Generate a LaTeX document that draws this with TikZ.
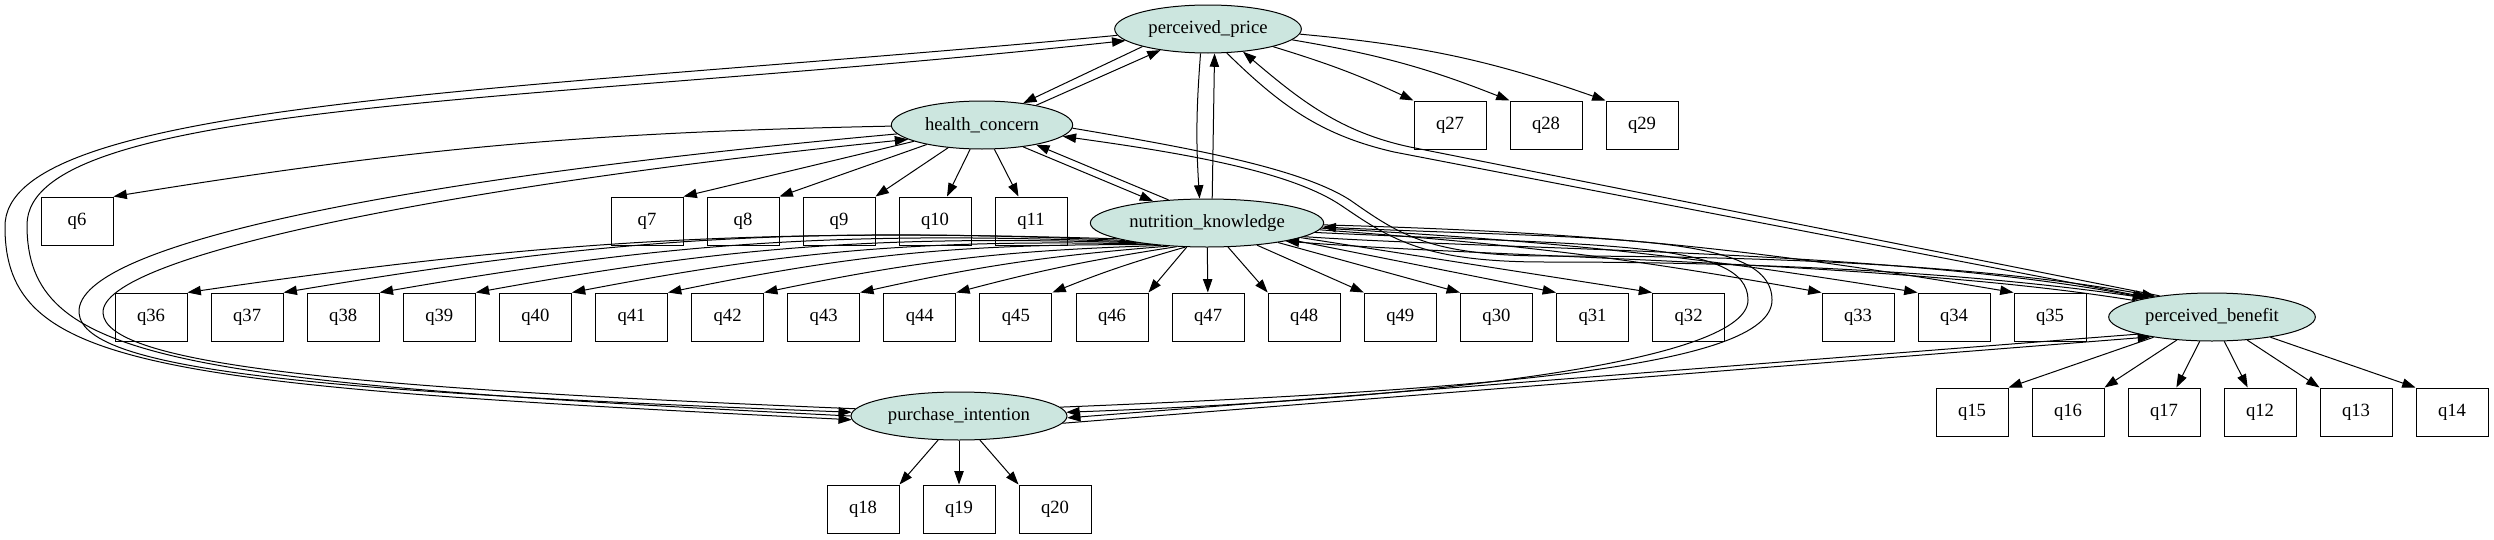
\documentclass[tikz,border=0pt]{standalone}
\usepackage{fontspec}
\setmainfont{Liberation Serif}
\usepackage{tikz}
\usetikzlibrary{positioning}
\usetikzlibrary{shapes.geometric,arrows.meta}
\definecolor{latentfill}{RGB}{204,230,223}

\begin{document}
\begin{tikzpicture}[x=0.75pt,y=-0.75pt,line width=0.75pt,>={Triangle[length=10pt,width=7pt]},
    font=\fontsize{14pt}{16pt}\selectfont,
    latent/.style={ellipse,draw,fill=latentfill,inner sep=0pt,minimum height=36pt},
    item/.style={rectangle,draw,minimum width=54pt,minimum height=36pt,inner sep=0pt}]
    \useasboundingbox (0,0) rectangle (2494,539);
    \node (pp) at (1208,29) [latent,minimum width=140pt] {perceived\_price};
    \node (hc) at (982,125) [latent,minimum width=136pt] {health\_concern};
    \node (nk) at (1207,223) [latent,minimum width=175pt] {nutrition\_knowledge};
    \node (pi) at (959,416) [latent,minimum width=162pt] {purchase\_intention};
    \node (pb) at (2212,317) [latent,minimum width=155pt] {perceived\_benefit};

    \node (q6) at (77,221) [item] {q6};
    \foreach \n [count=\i from 0] in {7,8,9,10,11}
      \node (q\n) at (647+\i*96,221) [item] {q\n};
    \foreach \n [count=\i from 0] in {27,28,29}
      \node (q\n) at (1450+\i*96,125) [item] {q\n};
    \foreach \n [count=\i from 0] in {36,37,38,39,40,41,42,43,44,45,46,47,48,49,30,31,32}
      \node (q\n) at (151+\i*96.1,317) [item] {q\n};
    \foreach \n [count=\i from 0] in {33,34,35}
      \node (q\n) at (1858+\i*96,317) [item] {q\n};
    \foreach \n [count=\i from 0] in {15,16,17,12,13,14}
      \node (q\n) at (1972+\i*96,412) [item] {q\n};
    \foreach \n [count=\i from 0] in {18,19,20}
      \node (q\n) at (863+\i*96,509) [item] {q\n};

    \foreach \q/\b in {q27/4,q28/6,q29/7}
      \draw [->] (pp) to [bend left=\b] (\q.north west);
    \draw [->] (hc) to [bend right=4] (q6.north east);
    \foreach \q in {q7,q8,q9}
      \draw [->] (hc) -- (\q.north east);
    \draw [->] (hc) -- (q10);
    \draw [->] (hc) -- (q11);
    \foreach \q/\a/\b in {q36/190/5,q37/192/6,q38/194/6,q39/196/6,q40/199/6,q41/202/6,q42/206/5,q43/211/4,q44/218/3,q45/228/3}
      \draw [->] (nk.\a) to [bend right=\b] (\q.north east);
    \draw [->] (nk) -- (q46.north east);
    \draw [->] (nk) -- (q47);
    \foreach \q in {q48,q49,q30,q31,q32}
      \draw [->] (nk) -- (\q.north west);
    \foreach \q/\b in {q33/3,q34/3,q35/4}
      \draw [->] (nk) to [bend left=\b] (\q.north west);
    \draw [->] (pb) -- (q15.north east);
    \draw [->] (pb) -- (q16.north east);
    \draw [->] (pb) -- (q17);
    \draw [->] (pb) -- (q12);
    \draw [->] (pb) -- (q13.north west);
    \draw [->] (pb) -- (q14.north west);
    \draw [->] (pi) -- (q18.north east);
    \draw [->] (pi) -- (q19);
    \draw [->] (pi) -- (q20.north west);

    \draw [->] (pp.195) -- (hc.28);
    \draw [->] (hc.20) -- (pp.204);
    \draw [->] (pp.253) to [bend right=4] (nk.107);
    \draw [->] (nk.78) -- (pp.285);
    \draw [->] (pp.308) .. controls (1280,105) and (1320,135) .. (1394,152) -- (pb.163);
    \draw [->] (pb.158) -- (1410,147) .. controls (1340,132) and (1300,100) .. (pp.327);
    \draw [->] (pp.184) .. controls (518,92) and (3,100) .. (5,227) .. controls (5,367) and (150,385) .. (pi.182);
    \draw [->] (pi.180) .. controls (170,382) and (27,360) .. (27,225) .. controls (27,100) and (540,104) .. (pp.188);
    \draw [->] (hc.332) -- (nk.158);
    \draw [->] (nk.149) -- (hc.340);
    \draw [->] (hc.186) .. controls (440,175) and (74,240) .. (79,313) .. controls (84,372) and (330,392) .. (pi.178);
    \draw [->] (pi.176) .. controls (350,388) and (106,365) .. (103,313) .. controls (100,255) and (460,185) .. (hc.191);
    \draw [->] (hc.358) .. controls (1190,148) and (1300,168) .. (1350,200) .. controls (1400,235) and (1430,256) .. (1550,256) .. controls (1800,256) and (2000,268) .. (pb.160);
    \draw [->] (pb.164) .. controls (2000,276) and (1800,262) .. (1545,262) .. controls (1425,262) and (1392,240) .. (1342,206) .. controls (1292,172) and (1190,154) .. (hc.352);
    \draw [->] (nk.352) .. controls (1500,250) and (1900,250) .. (pb.164);
    \draw [->] (pb.168) .. controls (1900,262) and (1500,258) .. (nk.347);
    \draw [->] (nk.355) .. controls (1600,246) and (1748,240) .. (1748,300) .. controls (1748,360) and (1450,398) .. (pi.2);
    \draw [->] (pi.5) .. controls (1480,390) and (1772,368) .. (1772,300) .. controls (1772,232) and (1600,240) .. (nk.358);
    \draw [->] (pb.193) -- (pi.359);
    \draw [->] (pi.356) -- (pb.198);
\end{tikzpicture}
\end{document}
